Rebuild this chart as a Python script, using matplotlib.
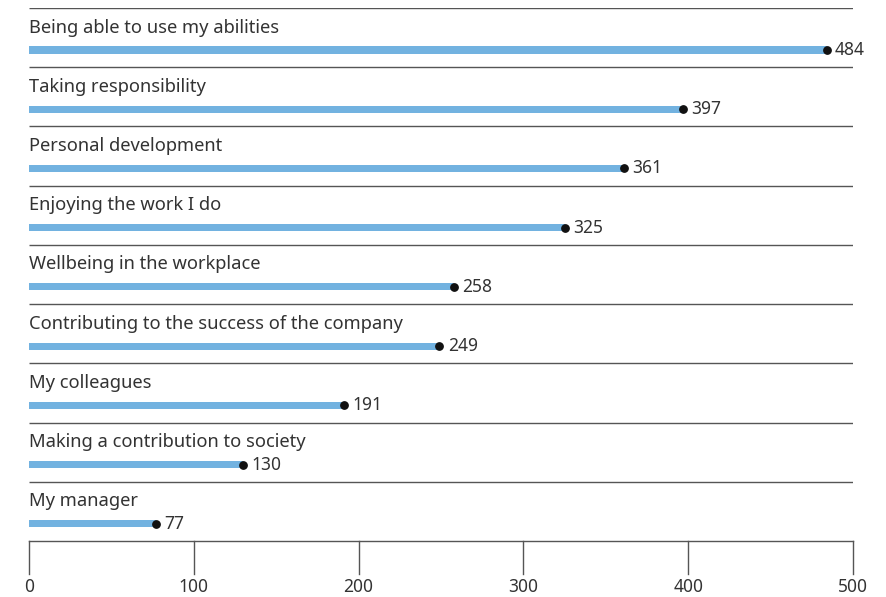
import matplotlib.pyplot as plt
import numpy as np

categories = [
    "Being able to use my abilities",
    "Taking responsibility",
    "Personal development",
    "Enjoying the work I do",
    "Wellbeing in the workplace",
    "Contributing to the success of the company",
    "My colleagues",
    "Making a contribution to society",
    "My manager",
]
values = [484, 397, 361, 325, 258, 249, 191, 130, 77]
tick_values = [0, 100, 200, 300, 400, 500]

BAR_COLOR = "#72b2e0"
LINE_COLOR = "#555555"
TEXT_COLOR = "#333333"

plt.rcParams["font.family"] = ["Noto Sans", "DejaVu Sans"]

fig = plt.figure(figsize=(8.86, 5.97), dpi=100)
ax = fig.add_axes([29 / 886, (597 - 541) / 597, 824 / 886, 533 / 597])
n = len(categories)
ax.set_xlim(0, 500)
ax.set_ylim(0, n)

for i, (cat, val) in enumerate(zip(categories, values)):
    top = n - i
    # row separator
    ax.plot([0, 500], [top, top], color=LINE_COLOR, lw=1.0, solid_capstyle="butt")
    label_y = top - 0.33
    bar_y = top - 0.71
    ax.text(0, label_y, cat, fontsize=13.2, color=TEXT_COLOR, va="center", ha="left")
    ax.barh(bar_y, val, height=0.12, color=BAR_COLOR, left=0)
    ax.scatter([val], [bar_y], s=28, color="#111111", zorder=3)
    ax.annotate(str(val), (val, bar_y), xytext=(6, 0), textcoords="offset points",
                fontsize=12.5, color=TEXT_COLOR, va="center", ha="left")

# baseline axis with long ticks
ax.plot([0, 500], [0, 0], color=LINE_COLOR, lw=1.0, clip_on=False)
for t in tick_values:
    ax.plot([t, t], [0, -33 / 59.2], color=LINE_COLOR, lw=1.0, clip_on=False)
    ax.text(t, -46 / 59.2, str(t), fontsize=12.5, color=TEXT_COLOR, ha="center", va="center")

ax.axis("off")
fig.savefig("out.png", dpi=100)
